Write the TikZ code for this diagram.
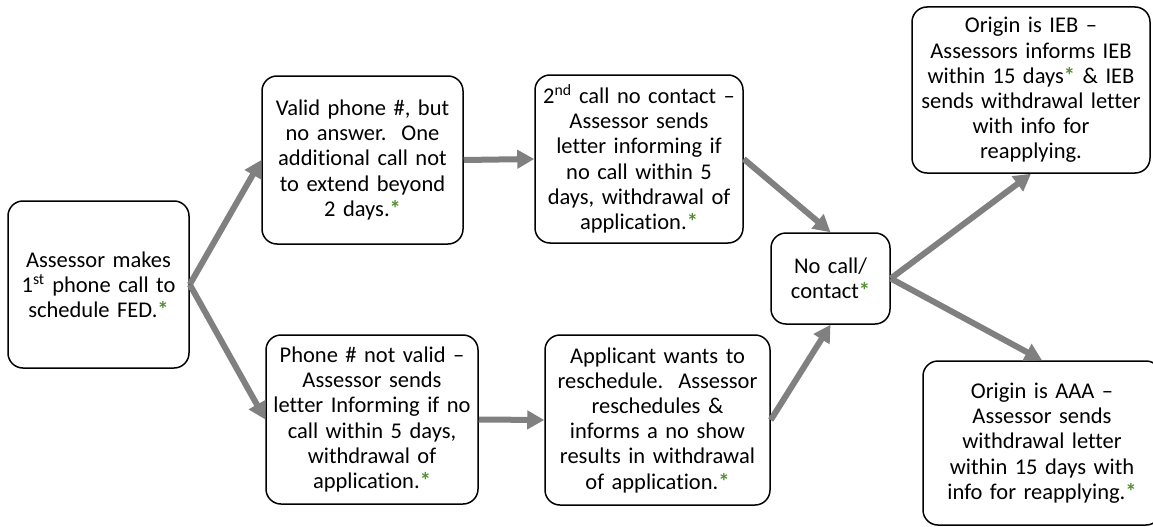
\documentclass[tikz,border=0pt]{standalone}
\usepackage{fontspec}
\setmainfont[Ligatures=NoCommon]{Carlito}
\usetikzlibrary{arrows.meta}
\definecolor{stargreen}{RGB}{84,140,52}
\definecolor{arrowgray}{RGB}{128,128,128}
\newcommand{\gstar}{\textcolor{stargreen}{\textbf{*}}}
\tikzset{
  box/.style={draw=black, line width=1.5pt, rounded corners=15pt, align=center,
    font=\fontsize{22.5}{25.2}\selectfont, inner sep=2pt},
  flow/.style={draw=arrowgray, line width=6pt,
    -{Triangle[length=17pt,width=18pt]}, shorten >=0pt}
}
\begin{document}
\begin{tikzpicture}[x=1pt,y=-1pt]
\useasboundingbox (0,0) rectangle (1153,527);
\node[box, minimum width=181pt, minimum height=167pt, text width=177pt] (A) at (98.5,284.5)
  {Assessor makes\\1\textsuperscript{st} phone call to\\schedule FED.\gstar};
\node[box, minimum width=201pt, minimum height=168pt, text width=197pt] (B) at (362.5,160)
  {Valid phone \#, but\\no answer.\ \ One\\additional call not\\to extend beyond\\2 days.\gstar};
\node[box, minimum width=208pt, minimum height=168pt, text width=204pt] (C) at (639,159)
  {2\textsuperscript{nd} call no contact --\\Assessor sends\\letter informing if\\no call within 5\\days, withdrawal of\\application.\gstar};
\node[box, minimum width=119pt, minimum height=91pt, text width=115pt] (D) at (830.5,278.5)
  {No call/\\contact\gstar};
\node[box, minimum width=238pt, minimum height=166pt, text width=234pt] (E) at (1031,90)
  {Origin is IEB --\\Assessors informs IEB\\within 15 days\gstar{} \& IEB\\sends withdrawal letter\\with info for\\reapplying.};
\node[box, minimum width=238pt, minimum height=164pt, text width=234pt] (F) at (1042,443)
  {Origin is AAA --\\Assessor sends\\withdrawal letter\\within 15 days with\\info for reapplying.\gstar};
\node[box, minimum width=212pt, minimum height=169pt, text width=208pt] (G) at (372,419.5)
  {Phone \# not valid --\\Assessor sends\\letter Informing if no\\call within 5 days,\\withdrawal of\\application.\gstar};
\node[box, minimum width=225pt, minimum height=170pt, text width=221pt] (H) at (657.5,420)
  {Applicant wants to\\reschedule.\ \ Assessor\\reschedules \&\\informs a no show\\results in withdrawal\\of application.\gstar};
\draw[flow] (A.east) -- (B.west);
\draw[flow] (A.east) -- (G.west);
\draw[flow] (B.east) -- (C.west);
\draw[flow] (G.east) -- (H.west);
\draw[flow] (C.east) -- (D.north);
\draw[flow] (H.east) -- (D.south);
\draw[flow] (D.east) -- (E.south);
\draw[flow] (D.east) -- (F.north);
\end{tikzpicture}
\end{document}
